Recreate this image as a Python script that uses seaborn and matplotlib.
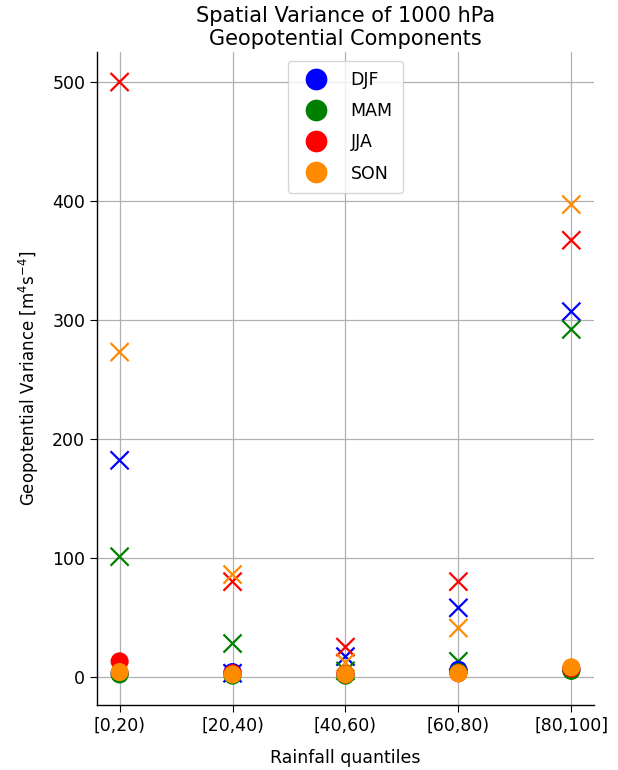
import matplotlib
matplotlib.use("Agg")
import matplotlib.pyplot as plt
import seaborn as sns
import pandas as pd

# Rainfall quantile bins
quantiles = ["[0,20)", "[20,40)", "[40,60)", "[60,80)", "[80,100]"]
seasons = ["DJF", "MAM", "JJA", "SON"]
season_colors = ["blue", "green", "red", "darkorange"]

# Variance of the first component (circles), per season
djf_dot = [3, 4, 2, 6, 6]
mam_dot = [2, 1, 1, 4, 5]
jja_dot = [13, 3, 2, 3, 7]
son_dot = [4, 2, 2, 3, 8]

# Variance of the second component (crosses), per season
djf_cross = [182, 3, 17, 58, 307]
mam_cross = [101, 28, 5, 13, 292]
jja_cross = [500, 80, 25, 80, 367]
son_cross = [273, 86, 12, 41, 397]


def long_table(series):
    rows = []
    for season, vals in zip(seasons, series):
        for q, v in zip(quantiles, vals):
            rows.append({"quantile": q, "season": season, "variance": v})
    return pd.DataFrame(rows)


dots = long_table([djf_dot, mam_dot, jja_dot, son_dot])
crosses = long_table([djf_cross, mam_cross, jja_cross, son_cross])

sns.set_style("ticks")
plt.rcParams["font.family"] = ["DejaVu Sans"]
for key in ("text.color", "axes.labelcolor", "xtick.color", "ytick.color"):
    plt.rcParams[key] = "black"
fs = 12.5

fig = plt.figure(figsize=(6.18, 7.70), dpi=100)
ax = fig.add_axes([0.157, 0.084, 0.804, 0.848])

palette = dict(zip(seasons, season_colors))
sns.scatterplot(data=crosses, x="quantile", y="variance", hue="season",
                palette=palette, s=170, marker="x", linewidth=1.6,
                legend=False, ax=ax, zorder=3)
sns.scatterplot(data=dots, x="quantile", y="variance", hue="season",
                palette=palette, s=170, linewidth=0, ax=ax, zorder=3)

ax.grid(True, color="#b0b0b0", linewidth=0.9, zorder=0)
ax.set_axisbelow(True)
sns.despine(ax=ax)
for sp in ("left", "bottom"):
    ax.spines[sp].set_color("black")
    ax.spines[sp].set_linewidth(1.0)

ax.set_yticks([0, 100, 200, 300, 400, 500])
ax.tick_params(labelsize=fs, length=5, color="black")
ax.set_xlabel("Rainfall quantiles", fontsize=fs, labelpad=10)
ax.set_ylabel("Geopotential Variance [m$^4$s$^{-4}$]", fontsize=12, labelpad=8)
ax.set_title("Spatial Variance of 1000 hPa\nGeopotential Components", fontsize=15, pad=5)

leg = ax.legend(loc="upper center", fontsize=fs, markerscale=1.2,
                handletextpad=1.0, borderpad=0.6, labelspacing=0.75, framealpha=0.8)
leg.set_title(None)

fig.savefig("out.png", dpi=100)
